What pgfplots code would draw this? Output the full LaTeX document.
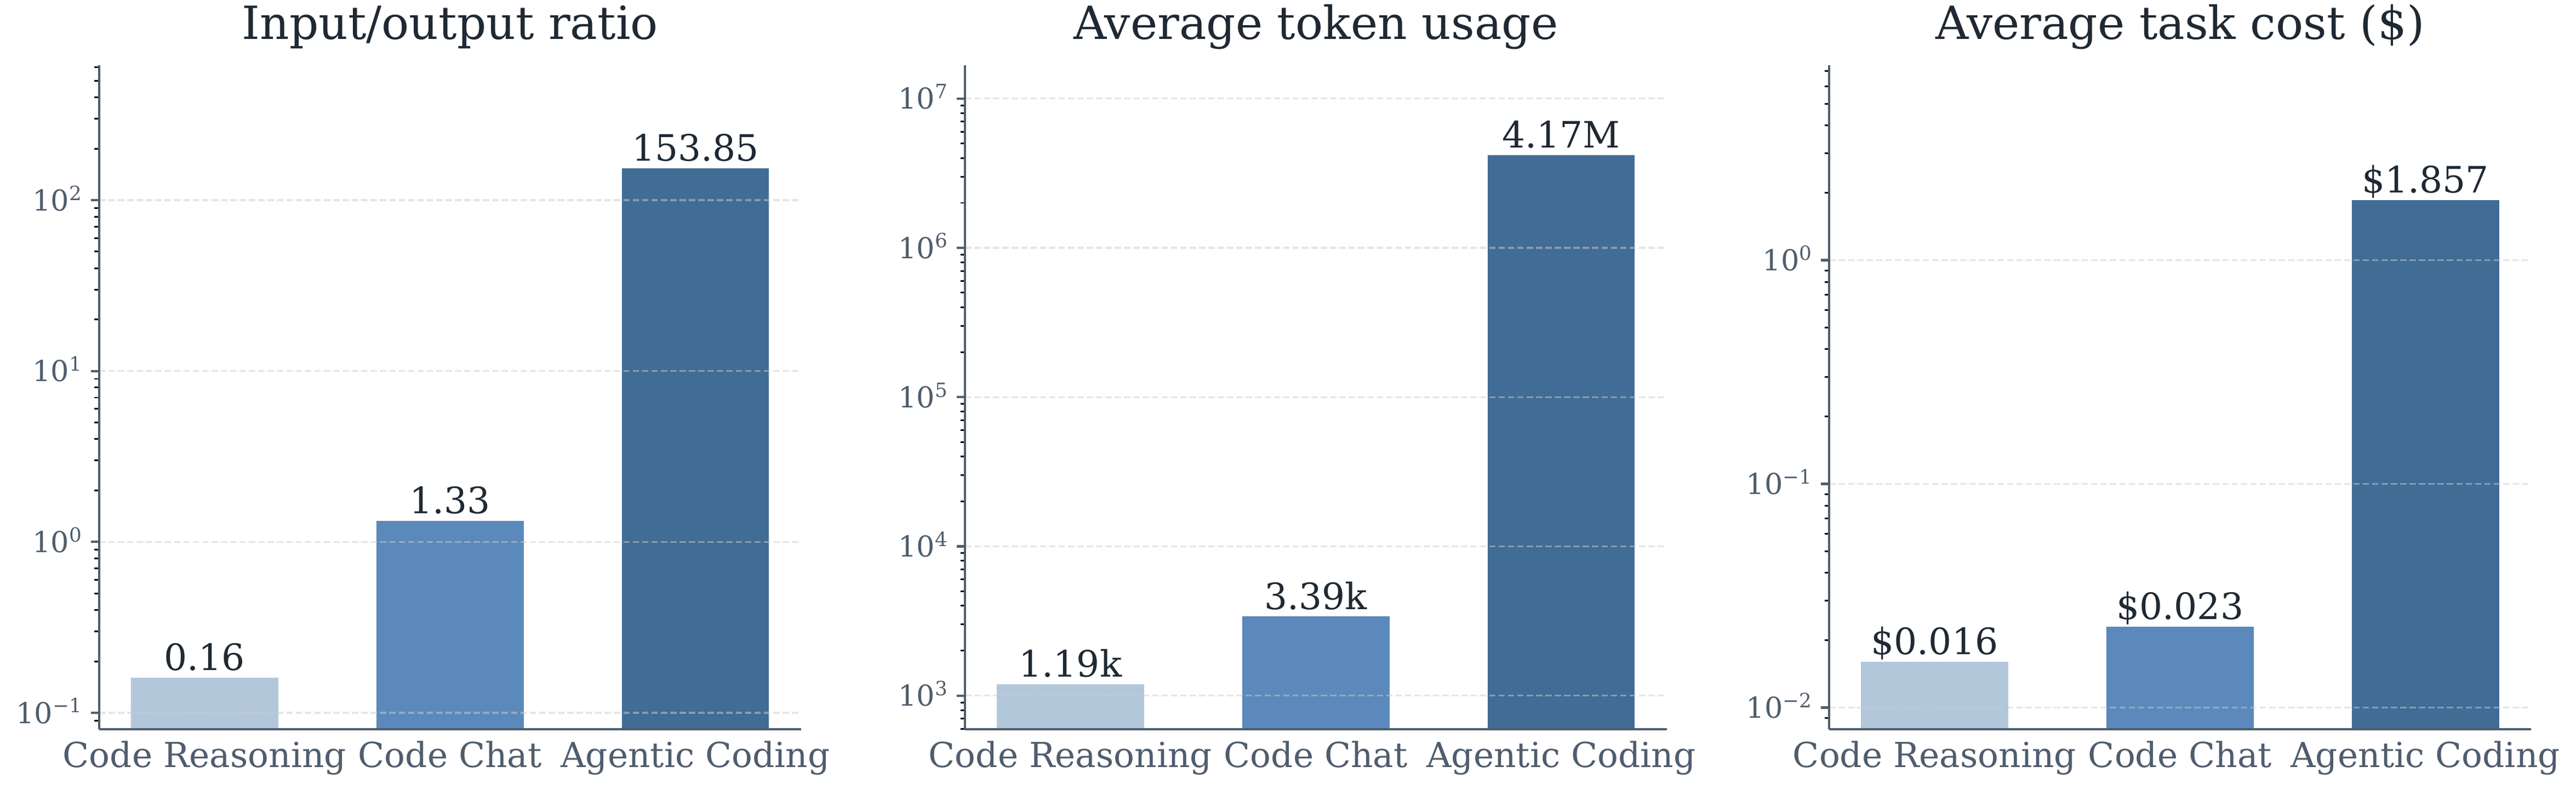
\documentclass[border=0pt]{standalone}
\usepackage{fontspec}
\setmainfont{DejaVu Serif}
\usepackage{pgfplots}
\pgfplotsset{compat=1.18}
\definecolor{cA}{HTML}{B3C7DB}
\definecolor{cB}{HTML}{5B89BB}
\definecolor{cC}{HTML}{416C95}
\definecolor{spine}{HTML}{4F5D6D}
\definecolor{txt}{HTML}{1F2933}
\definecolor{gridc}{HTML}{CCCCCC}
\newcommand\sups[1]{\raisebox{4.6bp}{\fontsize{8.6bp}{8.6bp}\selectfont #1}}
\pgfplotsset{
  every axis/.append style={
    width=307.4bp, height=290.6bp, scale only axis,
    xmin=-0.43, xmax=2.43,
    xtick={0,1,2},
    xticklabels={Code Reasoning, Code Chat, Agentic Coding},
    axis x line*=bottom, axis y line*=left,
    axis line style={draw=spine, line width=1bp, -},
    tick align=outside,
    major tick length=3.5bp, minor tick length=2bp,
    xtick style={draw=none},
    major tick style={draw=spine, line width=1bp},
    minor tick style={draw=black, line width=0.7bp},
    ymajorgrids,
    major grid style={draw=gridc, opacity=0.5, dash pattern=on 2.8bp off 1.3bp, line width=0.8bp},
    axis on top,
    clip=false,
    xticklabel style={font=\fontsize{15.1bp}{15.1bp}\selectfont, text=spine, anchor=base, inner sep=0pt, yshift=-13.1bp},
    yticklabel style={font=\fontsize{12.6bp}{12.6bp}\selectfont, text=spine, anchor=base east, inner sep=0pt, yshift=-4.6bp, xshift=-3.9bp},
    title style={font=\fontsize{20bp}{20bp}\selectfont, text=txt, at={(0.5,1)}, anchor=base, inner sep=0pt, yshift=5.5bp},
  },
  every node near coord/.append style={font=\fontsize{15.9bp}{15.9bp}\selectfont, text=txt, anchor=base, inner sep=0pt, yshift=3.2bp},
}
\begin{document}
\begin{tikzpicture}
\useasboundingbox (0,0) rectangle (1128.24bp,345.12bp);
% Panel 1
\begin{axis}[ymode=log, log origin y=infty, anchor=south west, at={(43.4bp,25.9bp)},
  title={Input/output ratio},
  ymin=0.08, ymax=615.4,
  ytick={0.1,1,10,100},
  yticklabels={10\sups{−1},10\sups{0},10\sups{1},10\sups{2}},
  minor ytick={0.09,0.2,0.3,0.4,0.5,0.6,0.7,0.8,0.9,2,3,4,5,6,7,8,9,20,30,40,50,60,70,80,90,200,300,400,500,600},
]
\addplot[ybar, bar shift=0pt, bar width=0.6, draw=none, fill=cA, nodes near coords={0.16}] coordinates {(0,0.16)};
\addplot[ybar, bar shift=0pt, bar width=0.6, draw=none, fill=cB, nodes near coords={1.33}] coordinates {(1,1.33)};
\addplot[ybar, bar shift=0pt, bar width=0.6, draw=none, fill=cC, nodes near coords={153.85}] coordinates {(2,153.85)};
\end{axis}
% Panel 2
\begin{axis}[ymode=log, log origin y=infty, anchor=south west, at={(422.6bp,25.9bp)},
  title={Average token usage},
  ymin=595, ymax=1.668e7,
  ytick={1000,10000,100000,1000000,10000000},
  yticklabels={10\sups{3},10\sups{4},10\sups{5},10\sups{6},10\sups{7}},
  minor ytick={600,700,800,900,2000,3000,4000,5000,6000,7000,8000,9000,20000,30000,40000,50000,60000,70000,80000,90000,200000,300000,400000,500000,600000,700000,800000,900000,2000000,3000000,4000000,5000000,6000000,7000000,8000000,9000000},
]
\addplot[ybar, bar shift=0pt, bar width=0.6, draw=none, fill=cA, nodes near coords={1.19k}] coordinates {(0,1190)};
\addplot[ybar, bar shift=0pt, bar width=0.6, draw=none, fill=cB, nodes near coords={3.39k}] coordinates {(1,3390)};
\addplot[ybar, bar shift=0pt, bar width=0.6, draw=none, fill=cC, nodes near coords={4.17M}] coordinates {(2,4170000)};
\end{axis}
% Panel 3
\begin{axis}[ymode=log, log origin y=infty, anchor=south west, at={(801.1bp,25.9bp)},
  title={Average task cost (\$)},
  ymin=0.008, ymax=7.428,
  ytick={0.01,0.1,1},
  yticklabels={10\sups{−2},10\sups{−1},10\sups{0}},
  minor ytick={0.009,0.02,0.03,0.04,0.05,0.06,0.07,0.08,0.09,0.2,0.3,0.4,0.5,0.6,0.7,0.8,0.9,2,3,4,5,6,7},
]
\addplot[ybar, bar shift=0pt, bar width=0.6, draw=none, fill=cA, nodes near coords={\$0.016}] coordinates {(0,0.016)};
\addplot[ybar, bar shift=0pt, bar width=0.6, draw=none, fill=cB, nodes near coords={\$0.023}] coordinates {(1,0.023)};
\addplot[ybar, bar shift=0pt, bar width=0.6, draw=none, fill=cC, nodes near coords={\$1.857}] coordinates {(2,1.857)};
\end{axis}
\end{tikzpicture}
\end{document}
